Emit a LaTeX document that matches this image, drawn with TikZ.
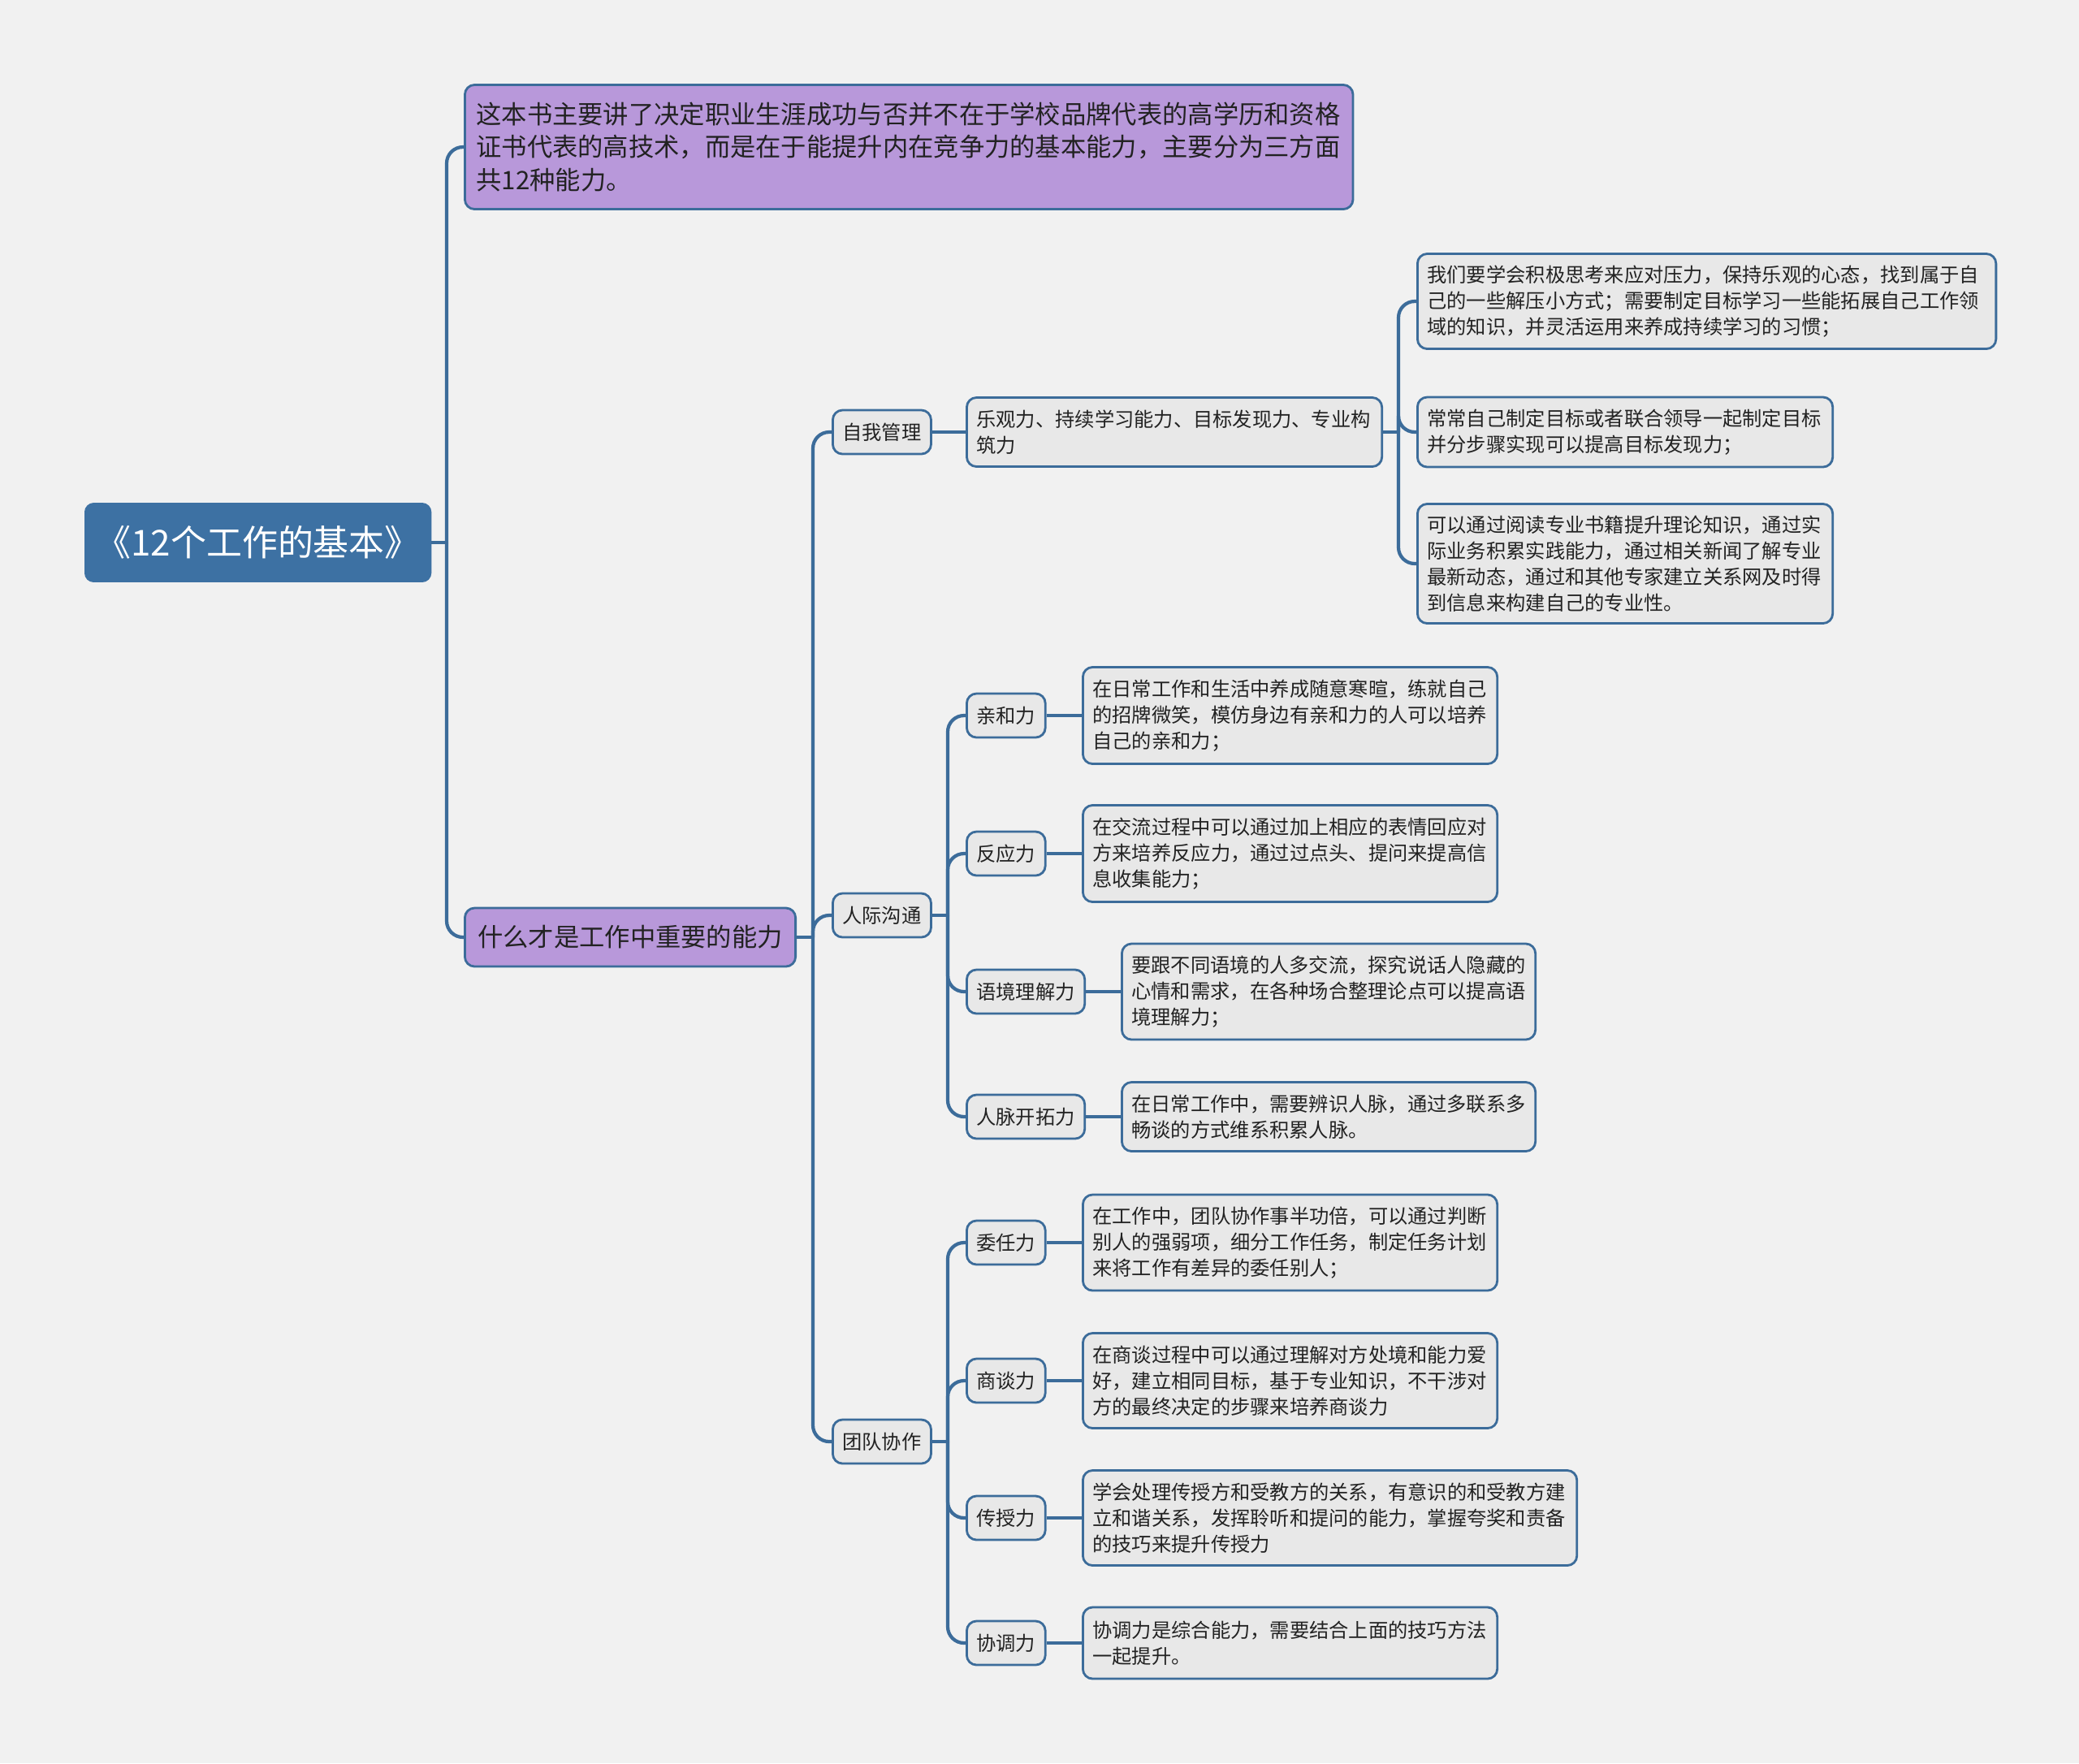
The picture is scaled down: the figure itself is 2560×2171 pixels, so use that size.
\documentclass[tikz,border=0pt]{standalone}
\usepackage{fontspec}
\newfontfamily\cjk{Noto Sans CJK SC}
\usepackage{tikz}
\usetikzlibrary{positioning}
\definecolor{cline}{HTML}{3C6C9A}
\definecolor{croot}{HTML}{3D71A3}
\definecolor{cpurple}{HTML}{B898DA}
\definecolor{cleaf}{HTML}{E8E8E8}
\definecolor{cbg}{HTML}{F1F1F1}
\definecolor{ctext}{HTML}{222222}

\begin{document}
\begin{tikzpicture}[
    x=0.01cm, y=-0.01cm,
    box/.style={draw=cline, line width=0.8pt, rounded corners=0.12cm, anchor=west, text=ctext, inner xsep=0.12cm, inner ysep=0pt},
    rootbox/.style={box, fill=croot, draw=croot, text=white, font=\cjk\fontsize{12.5pt}{14pt}\selectfont, minimum width=4.23cm, minimum height=0.95cm, rounded corners=0.1cm},
    topic/.style={box, fill=cpurple, font=\cjk\fontsize{8.9pt}{11.6pt}\selectfont, inner xsep=0.14cm},
    sub/.style={box, fill=cleaf, font=\cjk\fontsize{6.9pt}{9.1pt}\selectfont, minimum height=0.54cm},
    leaf/.style={box, fill=cleaf, font=\cjk\fontsize{6.9pt}{9.1pt}\selectfont, align=left},
    conn/.style={draw=cline, line width=1.2pt, rounded corners=0.2cm},
]
\fill[cbg] (0,0) rectangle (2560,2171);
\useasboundingbox (0,0) rectangle (2560,2171);

% root and first level
\node[rootbox] (root) at (104,668) {《12个工作的基本》};
\node[topic, text width=10.65cm, align=left, minimum height=1.53cm] (intro) at (571,181)
    {这本书主要讲了决定职业生涯成功与否并不在于学校品牌代表的高学历和资格\\证书代表的高技术，而是在于能提升内在竞争力的基本能力，主要分为三方面\\共12种能力。};
\node[topic, minimum width=4.07cm, minimum height=0.72cm] (what) at (571,1154) {什么才是工作中重要的能力};

% second level
\node[sub] (self) at (1024,532) {自我管理};
\node[sub] (comm) at (1024,1127) {人际沟通};
\node[sub] (team) at (1024,1775) {团队协作};

% self management
\node[leaf, text width=4.87cm, minimum height=0.85cm] (selfsum) at (1189,532)
    {乐观力、持续学习能力、目标发现力、专业构\\筑力};
\node[leaf, text width=6.88cm, minimum height=1.17cm] (self1) at (1744,371)
    {我们要学会积极思考来应对压力，保持乐观的心态，找到属于自\\己的一些解压小方式；需要制定目标学习一些能拓展自己工作领\\域的知识，并灵活运用来养成持续学习的习惯；};
\node[leaf, text width=4.87cm, minimum height=0.86cm] (self2) at (1744,532)
    {常常自己制定目标或者联合领导一起制定目标\\并分步骤实现可以提高目标发现力；};
\node[leaf, text width=4.87cm, minimum height=1.47cm] (self3) at (1744,694)
    {可以通过阅读专业书籍提升理论知识，通过实\\际业务积累实践能力，通过相关新闻了解专业\\最新动态，通过和其他专家建立关系网及时得\\到信息来构建自己的专业性。};

% communication
\node[sub] (qh) at (1189,881) {亲和力};
\node[sub] (fy) at (1189,1051) {反应力};
\node[sub] (yj) at (1189,1221) {语境理解力};
\node[sub] (rm) at (1189,1375) {人脉开拓力};
\node[leaf, text width=4.86cm, minimum height=1.19cm] (qh-t) at (1332,881)
    {在日常工作和生活中养成随意寒暄，练就自己\\的招牌微笑，模仿身边有亲和力的人可以培养\\自己的亲和力；};
\node[leaf, text width=4.86cm, minimum height=1.19cm] (fy-t) at (1332,1051)
    {在交流过程中可以通过加上相应的表情回应对\\方来培养反应力，通过过点头、提问来提高信\\息收集能力；};
\node[leaf, text width=4.85cm, minimum height=1.18cm] (yj-t) at (1380,1221)
    {要跟不同语境的人多交流，探究说话人隐藏的\\心情和需求，在各种场合整理论点可以提高语\\境理解力；};
\node[leaf, text width=4.85cm, minimum height=0.85cm] (rm-t) at (1380,1375)
    {在日常工作中，需要辨识人脉，通过多联系多\\畅谈的方式维系积累人脉。};

% teamwork
\node[sub] (wr) at (1189,1530) {委任力};
\node[sub] (st) at (1189,1700) {商谈力};
\node[sub] (cs) at (1189,1869) {传授力};
\node[sub] (xt) at (1189,2023) {协调力};
\node[leaf, text width=4.86cm, minimum height=1.18cm] (wr-t) at (1332,1530)
    {在工作中，团队协作事半功倍，可以通过判断\\别人的强弱项，细分工作任务，制定任务计划\\来将工作有差异的委任别人；};
\node[leaf, text width=4.86cm, minimum height=1.17cm] (st-t) at (1332,1700)
    {在商谈过程中可以通过理解对方处境和能力爱\\好，建立相同目标，基于专业知识，不干涉对\\方的最终决定的步骤来培养商谈力};
\node[leaf, text width=5.84cm, minimum height=1.17cm] (cs-t) at (1332,1869)
    {学会处理传授方和受教方的关系，有意识的和受教方建\\立和谐关系，发挥聆听和提问的能力，掌握夸奖和责备\\的技巧来提升传授力};
\node[leaf, text width=4.86cm, minimum height=0.88cm] (xt-t) at (1332,2023)
    {协调力是综合能力，需要结合上面的技巧方法\\一起提升。};

% junctions
\coordinate (j0) at (550,668);
\coordinate (j1) at (1001,1154);
\coordinate (j2) at (1722,532);
\coordinate (j3) at (1167,1127);
\coordinate (j4) at (1167,1775);

% connectors
\draw[conn] (root.east) -- (j0);
\draw[conn] (j0) |- (intro.west);
\draw[conn] (j0) |- (what.west);
\draw[conn] (what.east) -- (j1);
\foreach \c in {self,comm,team} \draw[conn] (j1) |- (\c.west);
\draw[conn] (self.east) -- (selfsum.west);
\draw[conn] (selfsum.east) -- (j2);
\foreach \c in {self1,self2,self3} \draw[conn] (j2) |- (\c.west);
\draw[conn] (comm.east) -- (j3);
\draw[conn] (team.east) -- (j4);
\foreach \c in {qh,fy,yj,rm} {
  \draw[conn] (j3) |- (\c.west);
  \draw[conn] (\c.east) -- (\c-t.west);
}
\foreach \c in {wr,st,cs,xt} {
  \draw[conn] (j4) |- (\c.west);
  \draw[conn] (\c.east) -- (\c-t.west);
}
\end{tikzpicture}
\end{document}
